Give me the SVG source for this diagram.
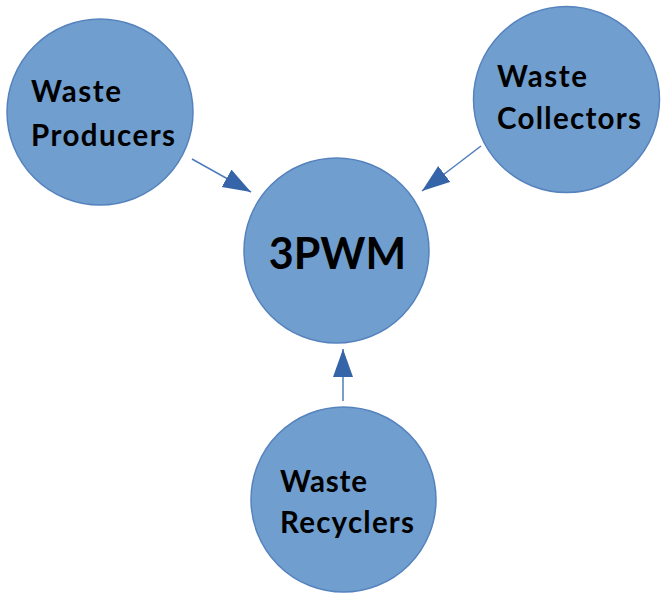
<svg xmlns="http://www.w3.org/2000/svg" width="672" height="602" viewBox="0 0 672 602">
<style>
.node{fill:#709ECE;stroke:#5683BE;stroke-width:1.5}
.lbl{font-family:Lato,"Open Sans","Liberation Sans",sans-serif;font-weight:bold;font-size:29.5px;fill:#000}
.big{font-size:43px}
.conn{stroke:#4F7DBC;stroke-width:1.5;fill:none}
</style>
<defs>
<marker id="ah" markerUnits="userSpaceOnUse" markerWidth="29" markerHeight="21" refX="28" refY="10" orient="auto" viewBox="0 0 29 21">
<path d="M0,0 L28,10 L0,20 z" fill="#3565A8"/>
</marker>
</defs>
<rect width="672" height="602" fill="#fff"/>
<g id="connectors">
<line class="conn" x1="192" y1="159" x2="251" y2="192" marker-end="url(#ah)"/>
<line class="conn" x1="481" y1="146" x2="422" y2="191" marker-end="url(#ah)"/>
<line class="conn" x1="343" y1="401" x2="343" y2="349" marker-end="url(#ah)"/>
</g>
<g id="producers">
<circle class="node" cx="100" cy="112" r="93"/>
<text class="lbl" x="31" y="102" textLength="90" lengthAdjust="spacing">Waste</text>
<text class="lbl" x="31" y="146" textLength="144" lengthAdjust="spacing">Producers</text>
</g>
<g id="collectors">
<circle class="node" cx="566.5" cy="99.5" r="93"/>
<text class="lbl" x="497" y="87" textLength="90" lengthAdjust="spacing">Waste</text>
<text class="lbl" x="497" y="129" textLength="144" lengthAdjust="spacing">Collectors</text>
</g>
<g id="center">
<circle class="node" cx="336.5" cy="250.5" r="92.5"/>
<text class="lbl big" x="337.5" y="269" text-anchor="middle">3PWM</text>
</g>
<g id="recyclers">
<circle class="node" cx="343.5" cy="499.5" r="92.5"/>
<text class="lbl" x="280" y="492" textLength="87" lengthAdjust="spacing">Waste</text>
<text class="lbl" x="280" y="533" textLength="134" lengthAdjust="spacing">Recyclers</text>
</g>
</svg>
